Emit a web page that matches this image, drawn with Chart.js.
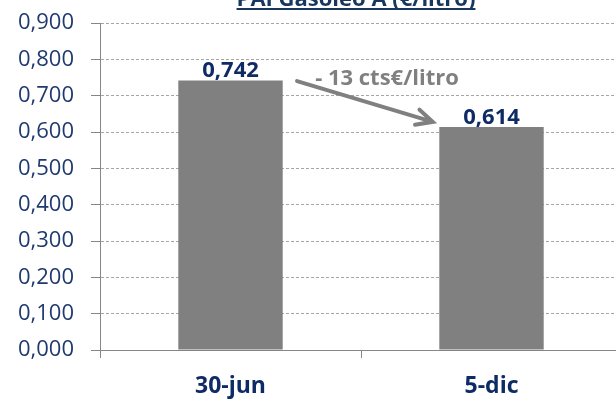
<!DOCTYPE html>
<html>
<head>
  <title>PAI Gasóleo A (€/litro)</title>
  <script src="https://cdn.jsdelivr.net/npm/chart.js"></script>
  <style>
    body { margin: 0; overflow: hidden; background: #fff; }
    #wrap { width: 616px; height: 400px; overflow: hidden; }
  </style>
</head>
<body>
  <div id="wrap"><canvas id="myChart" width="630" height="400"></canvas></div>

  <script>
    const categories = ['30-jun', '5-dic'];
    const prices = [0.742, 0.614];
    const titleText = 'PAI Gasóleo A (€/litro)';
    const noteText = '- 13 cts€/litro';
    // arrow between the bars, in category index / value units
    const arrowFrom = { x: 0.255, y: 0.740 };
    const arrowTo = { x: 0.775, y: 0.628 };
    const notePos = { x: 0.5, y: 0.730 };

    const navy = '#0F2B66';
    const grey = '#808080';

    function fmt(v) {
      return v.toFixed(3).replace('.', ',');
    }

    const extras = {
      id: 'extras',
      afterDraw(chart) {
        const ctx = chart.ctx;
        const xs = chart.scales.x;
        const ys = chart.scales.y;
        ctx.save();

        // title (cut off at the top like the original)
        ctx.font = 'bold 22px "Open Sans"';
        ctx.fillStyle = '#17375E';
        ctx.textAlign = 'center';
        ctx.textBaseline = 'alphabetic';
        const cx = 356;
        ctx.fillText(titleText, cx, 6);
        const tw = ctx.measureText(titleText).width;
        ctx.fillRect(cx - tw / 2, 8, tw, 2);

        // value labels
        ctx.font = 'bold 22px "Open Sans"';
        ctx.fillStyle = navy;
        prices.forEach((v, i) => {
          ctx.fillText(fmt(v), xs.getPixelForValue(i), ys.getPixelForValue(v) - 3);
        });

        // arrow
        const x1 = xs.getPixelForValue(arrowFrom.x), y1 = ys.getPixelForValue(arrowFrom.y);
        const x2 = xs.getPixelForValue(arrowTo.x), y2 = ys.getPixelForValue(arrowTo.y);
        ctx.strokeStyle = grey;
        ctx.lineWidth = 4;
        ctx.lineCap = 'round';
        ctx.beginPath();
        ctx.moveTo(x1, y1);
        ctx.lineTo(x2, y2);
        const a = Math.atan2(y2 - y1, x2 - x1);
        const h = 18;
        ctx.moveTo(x2 - h * Math.cos(a - 0.45), y2 - h * Math.sin(a - 0.45));
        ctx.lineTo(x2, y2);
        ctx.lineTo(x2 - h * Math.cos(a + 0.45), y2 - h * Math.sin(a + 0.45));
        ctx.stroke();

        // note
        ctx.font = 'bold 22px "Open Sans"';
        ctx.fillStyle = grey;
        ctx.fillText(noteText, xs.getPixelForValue(notePos.x) + 26, ys.getPixelForValue(notePos.y));

        ctx.restore();
      }
    };

    let ctx = document.getElementById('myChart').getContext('2d');

    let myChart = new Chart(ctx, {
      type: 'bar',
      data: {
        labels: categories,
        datasets: [{
          data: prices,
          backgroundColor: grey,
          categoryPercentage: 1,
          barPercentage: 0.4
        }]
      },
      plugins: [extras],
      options: {
        responsive: false,
        animation: false,
        devicePixelRatio: 1,
        layout: { padding: { top: 23, right: 8, left: 0, bottom: 0 } },
        plugins: {
          legend: { display: false },
          tooltip: { enabled: false }
        },
        scales: {
          x: {
            afterFit(scale) {
              scale.height = 50;
              scale.paddingLeft = 0;
              scale.paddingRight = 0;
            },
            grid: {
              offset: true,
              drawOnChartArea: false,
              tickLength: 8,
              color: '#868686'
            },
            border: { color: '#868686', width: 1 },
            ticks: {
              color: navy,
              padding: 15,
              font: { family: 'Open Sans', size: 23, weight: 'bold' }
            }
          },
          y: {
            min: 0,
            max: 0.9,
            afterFit(scale) {
              scale.width = 100;
              scale.paddingTop = 0;
              scale.paddingBottom = 0;
            },
            grid: {
              color: '#A6A6A6',
              tickColor: '#868686',
              tickLength: 9
            },
            border: { color: '#868686', width: 1, dash: [3, 2] },
            ticks: {
              stepSize: 0.1,
              color: '#1F3A6E',
              padding: 17,
              font: { family: 'Open Sans', size: 22 },
              callback: (v) => fmt(v)
            }
          }
        }
      }
    });
  </script>
</body>
</html>
